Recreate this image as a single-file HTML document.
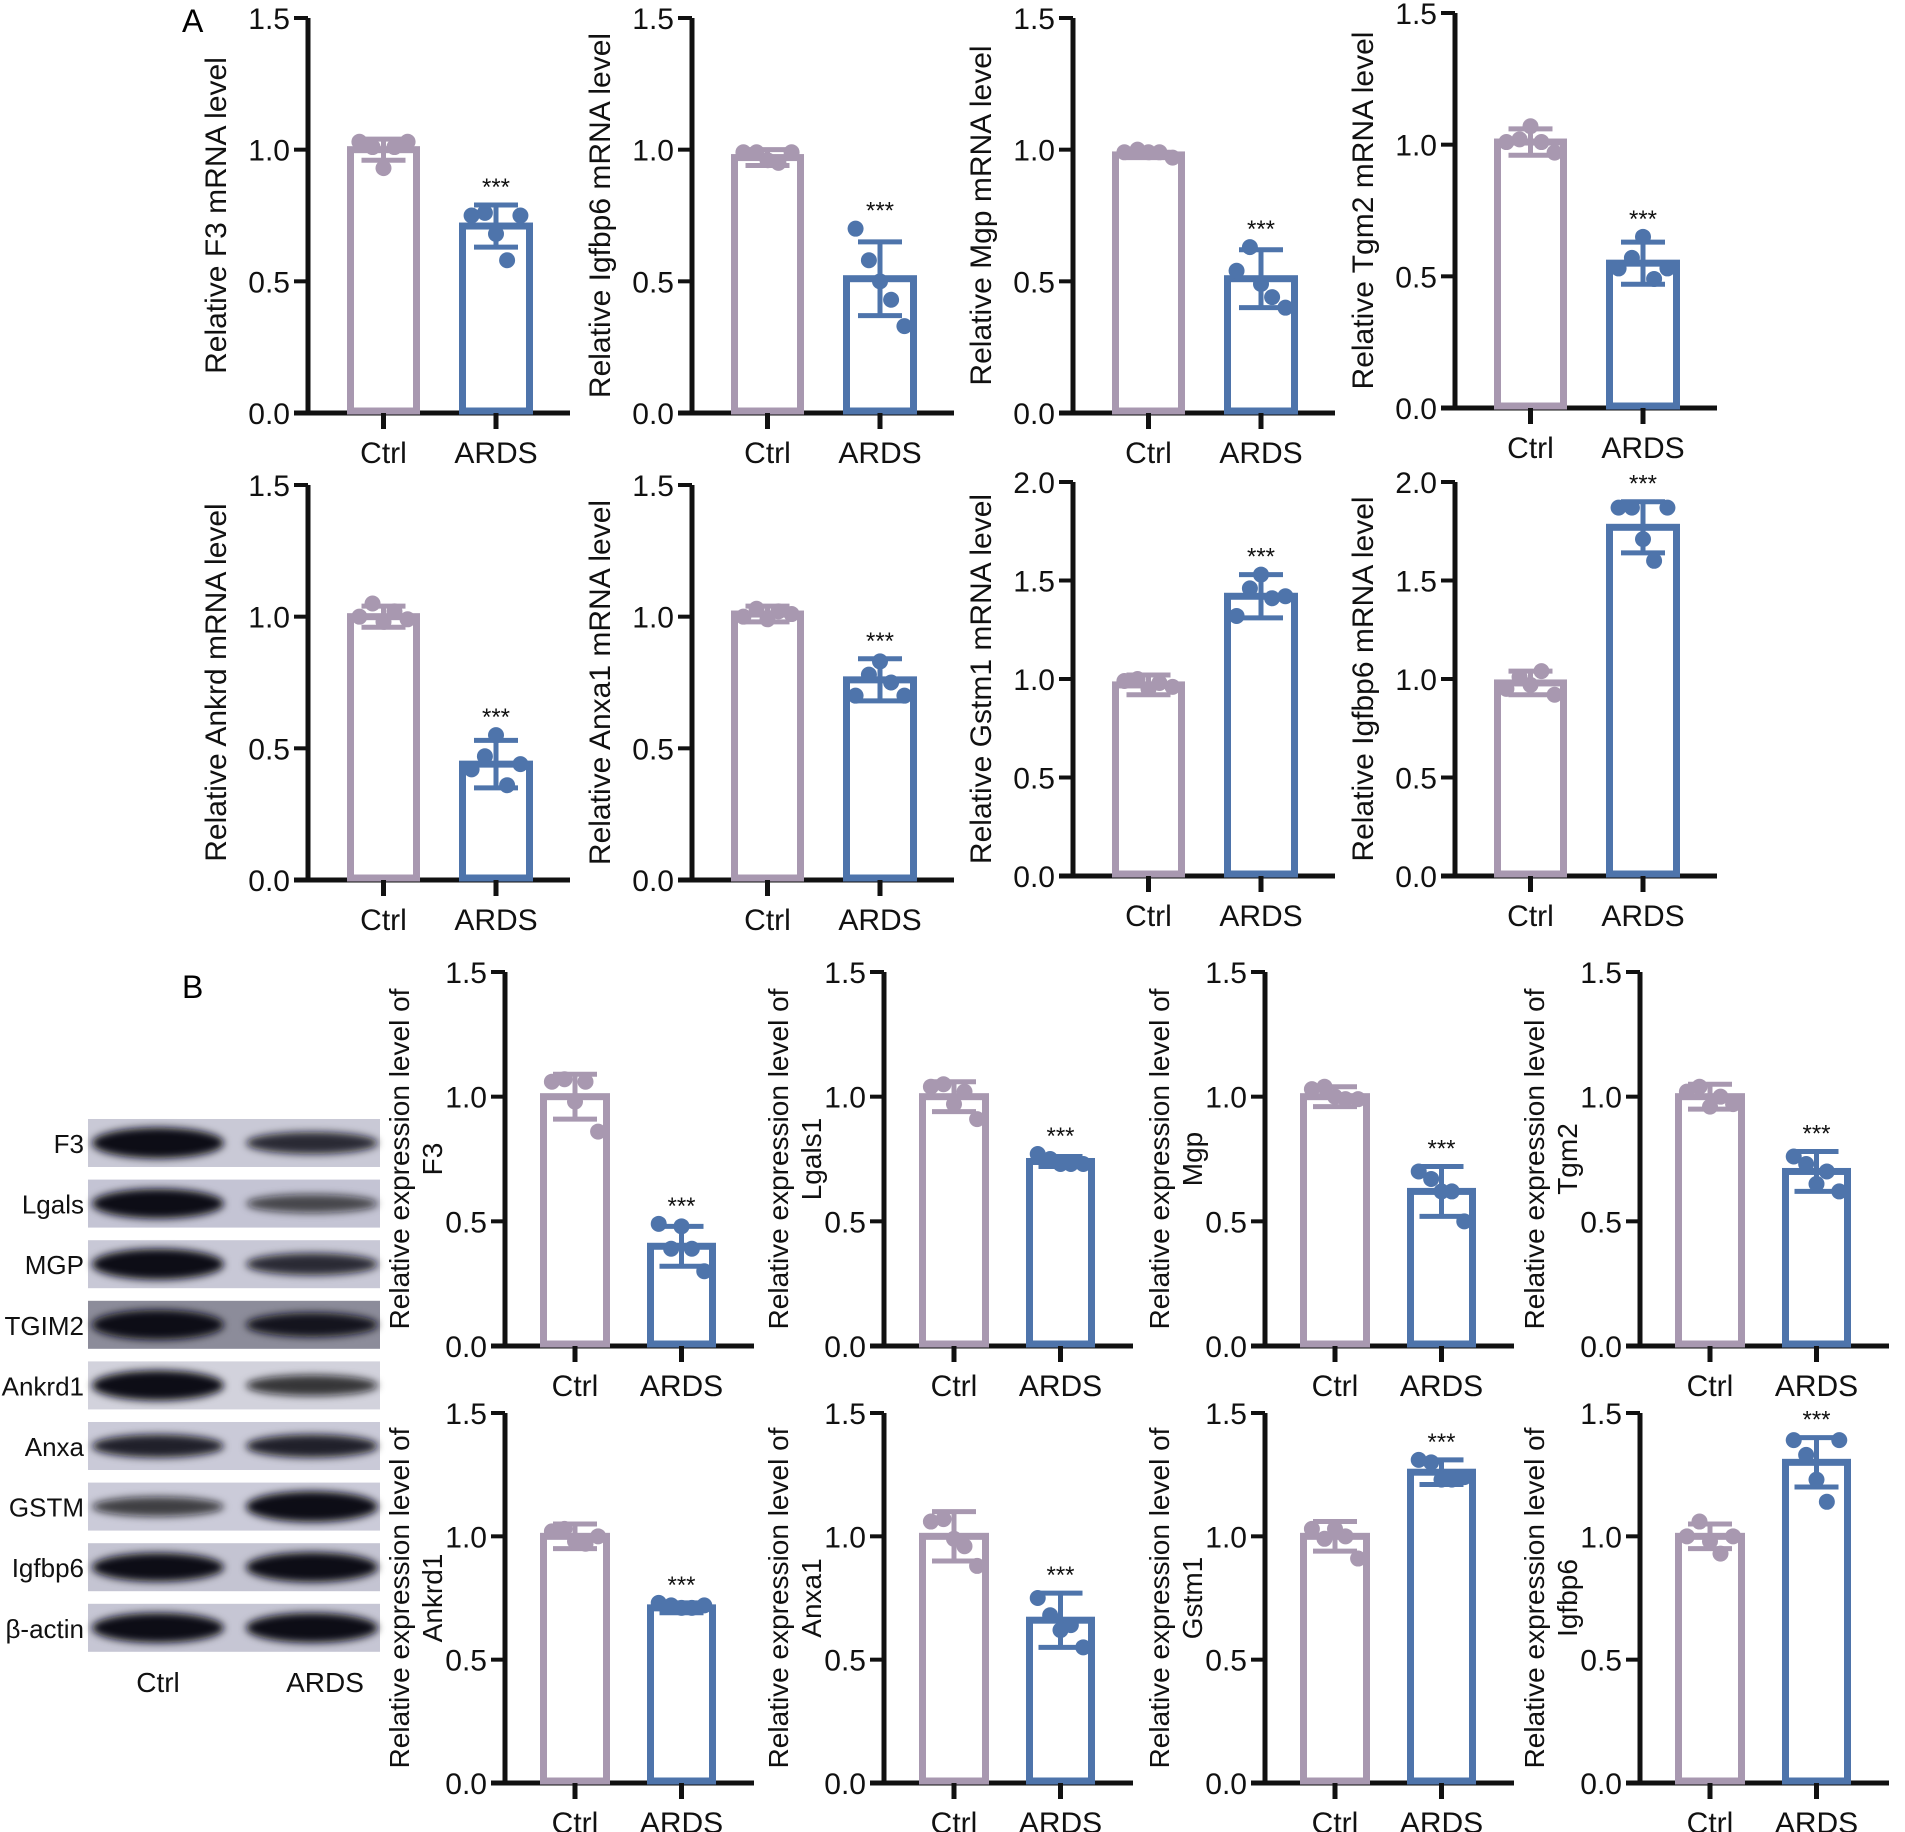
<!DOCTYPE html>
<html><head><meta charset="utf-8"><style>
html,body{margin:0;padding:0;background:#fff;}
svg{display:block;font-family:"Liberation Sans",Arial,sans-serif;}
</style></head><body>
<svg id="fig" width="1905" height="1832" viewBox="0 0 1905 1832" xmlns="http://www.w3.org/2000/svg">
<defs><filter id="blur" x="-20%" y="-50%" width="140%" height="200%"><feGaussianBlur stdDeviation="4"/></filter></defs>
<text x="182" y="32" font-size="32">A</text>
<text x="182" y="998" font-size="32">B</text>
<g id="blot"></g>
<g id="charts"></g>
</svg>
<script>
const NS="http://www.w3.org/2000/svg";
const CTRL="#a898b0", ARDS="#4e74ab";
// chart data
const genesA=["F3","Igfbp6","Mgp","Tgm2","Ankrd","Anxa1","Gstm1","Igfbp6"];
const maxA=[1.5,1.5,1.5,1.5,1.5,1.5,2.0,2.0];
const ctrlMeanA=[1.0,0.97,0.98,1.01,1.0,1.01,0.97,0.98];
const ctrlSdA=[0.04,0.03,0.01,0.05,0.04,0.03,0.05,0.06];
const ardsMeanA=[0.71,0.51,0.51,0.55,0.44,0.76,1.42,1.77];
const ardsSdA=[0.08,0.14,0.11,0.08,0.09,0.08,0.11,0.13];
const ctrlPtsA=[[1.03,1.01,0.93,1.01,1.03],[0.99,0.99,0.96,0.95,0.99],[0.99,1.0,0.99,0.99,0.97],[1.01,1.02,1.07,1.01,0.97],[1.0,1.05,0.98,1.02,0.99],[1.0,1.03,0.99,1.02,1.01],[0.99,1.0,0.95,0.98,0.96],[0.95,1.01,0.97,1.04,0.92]];
const ardsPtsA=[[0.75,0.76,0.68,0.58,0.75],[0.70,0.58,0.50,0.43,0.33],[0.54,0.63,0.49,0.44,0.40],[0.53,0.57,0.65,0.49,0.53],[0.42,0.47,0.55,0.36,0.44],[0.70,0.78,0.83,0.75,0.70],[1.32,1.46,1.53,1.41,1.42],[1.87,1.87,1.71,1.60,1.87]];
const genesB=["F3","Lgals1","Mgp","Tgm2","Ankrd1","Anxa1","Gstm1","Igfbp6"];
const ctrlMeanB=[1.0,1.0,1.0,1.0,1.0,1.0,1.0,1.0];
const ctrlSdB=[0.09,0.06,0.04,0.05,0.05,0.1,0.06,0.05];
const ardsMeanB=[0.40,0.74,0.62,0.70,0.71,0.66,1.26,1.30];
const ardsSdB=[0.08,0.02,0.10,0.08,0.02,0.11,0.05,0.10];
const ctrlPtsB=[[1.06,1.07,0.98,1.06,0.86],[1.04,1.05,0.97,1.02,0.91],[1.03,1.04,1.0,0.99,0.99],[1.02,1.04,0.96,1.0,0.97],[1.02,1.03,0.98,0.97,1.0],[1.06,1.07,0.99,0.96,0.88],[1.03,0.99,1.03,1.0,0.91],[1.0,1.06,0.98,0.93,1.0]];
const ardsPtsB=[[0.49,0.39,0.48,0.39,0.30],[0.77,0.75,0.73,0.73,0.73],[0.70,0.67,0.62,0.62,0.50],[0.76,0.73,0.65,0.70,0.62],[0.73,0.72,0.71,0.71,0.72],[0.75,0.68,0.62,0.64,0.55],[1.31,1.30,1.23,1.23,1.24],[1.39,1.33,1.23,1.14,1.39]];
const catLabels=["Ctrl","ARDS"];

function el(tag,attrs,parent,txt){const e=document.createElementNS(NS,tag);for(const k in attrs)e.setAttribute(k,attrs[k]);if(txt!==undefined)e.textContent=txt;parent.appendChild(e);return e;}
const root=document.getElementById("charts");

function chart(o){
  const g=el("g",{},root);
  
  
  const ys=v=>o.y0-(v/o.max)*(o.y0-o.yTop);
  const ticks=[];for(let t=0;t<=o.max+1e-9;t+=0.5)ticks.push(t);
  const ax=el("line",{x1:o.ax,y1:o.yTop,x2:o.ax,y2:o.y0,stroke:"#111","stroke-width":5},g);
  
  
  ticks.forEach(t=>{
    el("line",{x1:o.ax-14,y1:ys(t),x2:o.ax,y2:ys(t),stroke:"#111","stroke-width":4},g);
    const tl=el("text",{x:o.ax-18,y:ys(t)+11,"font-size":30,"text-anchor":"end",fill:"#111"},g,t.toFixed(1));
    
    
  });
  const xa=el("line",{x1:o.ax-14,y1:o.y0,x2:o.ax+o.end,y2:o.y0,stroke:"#111","stroke-width":5},g);
  
  
  const cy=(o.yTop+o.y0)/2;
  if(o.title2){
    const t1=el("text",{x:o.ax-96,y:cy,"font-size":28,"text-anchor":"middle",transform:`rotate(-90 ${o.ax-96} ${cy})`,fill:"#111"},g,o.title);
    
    
    const t2=el("text",{x:o.ax-63,y:cy,"font-size":28,"text-anchor":"middle",transform:`rotate(-90 ${o.ax-63} ${cy})`,fill:"#111"},g,o.title2);
    
    
  } else {
    const t1=el("text",{x:o.ax-82,y:cy,"font-size":30,"text-anchor":"middle",transform:`rotate(-90 ${o.ax-82} ${cy})`,fill:"#111"},g,o.title);
    
    
  }
  const groups=[{m:o.cm,s:o.cs,p:o.cp,c:CTRL,x0:o.b1[0],x1:o.b1[1]},{m:o.am,s:o.as,p:o.ap,c:ARDS,x0:o.b2[0],x1:o.b2[1]}];
  groups.forEach((gr,i)=>{
    const x0=o.ax+gr.x0,x1=o.ax+gr.x1,w=x1-x0,cx=(x0+x1)/2;
    const bar=el("rect",{x:x0+3.5,y:ys(gr.m),width:w-7,height:o.y0-ys(gr.m)-2,fill:"#fff",stroke:gr.c,"stroke-width":7},g);
    
    
    const eb=el("g",{stroke:gr.c,"stroke-width":5},g);
    
    
    el("line",{x1:cx,y1:ys(gr.m+gr.s),x2:cx,y2:ys(gr.m-gr.s)},eb);
    el("line",{x1:cx-22,y1:ys(gr.m+gr.s),x2:cx+22,y2:ys(gr.m+gr.s)},eb);
    el("line",{x1:cx-22,y1:ys(gr.m-gr.s),x2:cx+22,y2:ys(gr.m-gr.s)},eb);
    const off=[-0.33,-0.15,0,0.15,0.33];
    gr.p.forEach((v,k)=>{
      const d=el("circle",{cx:cx+off[k]*w,cy:ys(v),r:8,fill:gr.c},g);
      
      
    });
    el("line",{x1:cx,y1:o.y0,x2:cx,y2:o.y0+16,stroke:"#111","stroke-width":5},g);
    const cl=el("text",{x:cx,y:o.y0+50,"font-size":30,"text-anchor":"middle",fill:"#111"},g,catLabels[i]);
    
    
    if(i===1){
      const st=el("text",{x:cx,y:ys(Math.max(gr.m+gr.s,...gr.p))-10,"font-size":24,"text-anchor":"middle",fill:"#111"},g,"***");
      
      
    }
  });
}
const axA=[308,692,1073,1455];
const rowsA=[[[18,413],[18,413],[18,413],[13,408]],[[485,880],[485,880],[482,876],[482,876]]];
for(let i=0;i<8;i++){
  const r=Math.floor(i/4),c=i%4;
  chart({name:'chart-a-'+genesA[i].toLowerCase()+'-'+i,ax:axA[c],yTop:rowsA[r][c][0],y0:rowsA[r][c][1],max:maxA[i],
    title:"Relative "+genesA[i]+" mRNA level",b1:[39,112],b2:[151,225],end:262,
    cm:ctrlMeanA[i],cs:ctrlSdA[i],cp:ctrlPtsA[i],am:ardsMeanA[i],as:ardsSdA[i],ap:ardsPtsA[i]});
}
const axB=[505,884,1265,1640];
const rowsB=[[972,1346],[1413,1783]];
for(let i=0;i<8;i++){
  const r=Math.floor(i/4),c=i%4;
  chart({name:'chart-b-'+genesB[i].toLowerCase(),ax:axB[c],yTop:rowsB[r][0],y0:rowsB[r][1],max:1.5,
    title:"Relative expression level of",title2:genesB[i],b1:[35,105],b2:[142,211],end:249,
    cm:ctrlMeanB[i],cs:ctrlSdB[i],cp:ctrlPtsB[i],am:ardsMeanB[i],as:ardsSdB[i],ap:ardsPtsB[i]});
}
// western blot
const blotLabels=["F3","Lgals","MGP","TGIM2","Ankrd1","Anxa","GSTM","Igfbp6","β-actin"];
const bandCtrl=[0.95,0.9,0.95,0.9,0.92,0.6,0.45,0.85,0.9];
const bandArds=[0.55,0.4,0.55,0.65,0.5,0.6,0.95,0.9,0.9];
const bg=["#c9c9d6","#c4c4d4","#c8c8d6","#8c8c9a","#d2d2dc","#cacad8","#cbcbd9","#c4c4d2","#c6c6d4"];
const blot=document.getElementById("blot");
blotLabels.forEach((lab,i)=>{
  const y=1119+i*60.6;
  const row=el("g",{},blot);
  
  
  el("rect",{x:88,y:y,width:292,height:48,fill:bg[i]},row);
  [[158,bandCtrl[i]],[312,bandArds[i]]].forEach(([cx,v])=>{
    el("ellipse",{cx:cx,cy:y+24,rx:66,ry:5+11*v,fill:"#0a0a14","fill-opacity":Math.min(1,0.3+v),filter:"url(#blur)"},row);
  });
  const t=el("text",{x:84,y:y+34,"font-size":26,"text-anchor":"end",fill:"#111"},row,lab);
  
  
});
const bc=el("text",{x:158,y:1692,"font-size":28,"text-anchor":"middle",fill:"#111"},blot,"Ctrl");


const ba=el("text",{x:325,y:1692,"font-size":28,"text-anchor":"middle",fill:"#111"},blot,"ARDS");


</script>
</body></html>
